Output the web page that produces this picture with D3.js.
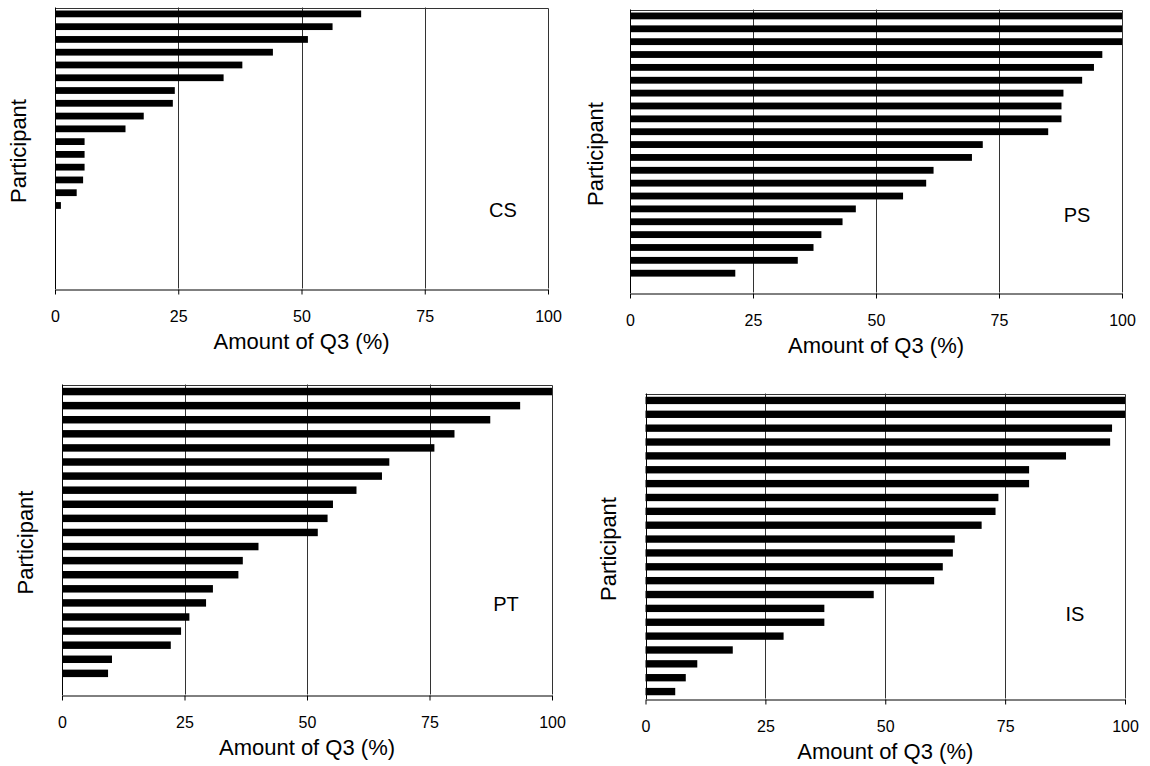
<!DOCTYPE html>
<html>
<head>
<meta charset="utf-8">
<script src="https://cdn.jsdelivr.net/npm/d3@7"></script>
<style>
  body { margin: 0; background: #fff; }
  svg { display: block; }
  text { font-family: "Liberation Sans", Arial, sans-serif; fill: #000; }
</style>
</head>
<body>
<svg id="chart" width="1150" height="766"></svg>
<script>
// Share of Q3 per participant, one array per group (sorted high to low)
const groups = ["CS", "PS", "PT", "IS"];
const csValues = [62.1, 56.3, 51.3, 44.2, 38.0, 34.2, 24.3, 23.9, 18.0, 14.3, 6.0, 6.0, 6.0, 5.7, 4.4, 1.2];
const psValues = [100, 100, 100, 96.0, 94.3, 91.9, 88.1, 87.7, 87.7, 85.0, 71.7, 69.5, 61.7, 60.2, 55.5, 45.9, 43.2, 38.9, 37.3, 34.1, 21.4];
const ptValues = [100, 93.5, 87.4, 80.1, 76.0, 66.8, 65.3, 60.1, 55.3, 54.2, 52.2, 40.1, 36.9, 36.0, 30.8, 29.4, 26.0, 24.3, 22.2, 10.2, 9.4];
const isValues = [100, 100, 97.3, 96.9, 87.7, 80.0, 80.0, 73.6, 73.0, 70.1, 64.5, 64.1, 62.0, 60.2, 47.6, 37.3, 37.3, 28.8, 18.2, 10.8, 8.4, 6.2];
const xTicks = [0, 25, 50, 75, 100];
const participantSlots = 22;
const xTitle = "Amount of Q3 (%)";
const yTitle = "Participant";

const seriesByGroup = { CS: csValues, PS: psValues, PT: ptValues, IS: isValues };

// Plot-area boxes for the 2x2 layout, plus where each group tag sits
const layout = {
  CS: { x0: 55,    x1: 548,  y0: 7.5,   y1: 288.5, ytX: 18.5, tagX: 503,  tagY: 210 },
  PS: { x0: 630,   x1: 1122, y0: 9.5,   y1: 292.5, ytX: 595,  tagX: 1077, tagY: 215 },
  PT: { x0: 62,    x1: 552,  y0: 384.5, y1: 694.5, ytX: 25,   tagX: 506,  tagY: 604 },
  IS: { x0: 645.5, x1: 1125, y0: 393.5, y1: 698.5, ytX: 608,  tagX: 1075, tagY: 614 }
};

const svg = d3.select("#chart");

groups.forEach(name => {
  const values = seriesByGroup[name];
  const L = layout[name];

  const x = d3.scaleLinear().domain([0, 100]).range([L.x0, L.x1]);
  const y = d3.scaleBand()
    .domain(d3.range(participantSlots))
    .range([L.y0, L.y1])
    .paddingInner(0.47)
    .paddingOuter(0.235);

  const g = svg.append("g").attr("class", "panel-" + name);

  // vertical gridlines
  g.append("g")
    .selectAll("line")
    .data(xTicks.filter(t => t > 0 && t < 100))
    .join("line")
    .attr("x1", d => Math.round(x(d)) + 0.5)
    .attr("x2", d => Math.round(x(d)) + 0.5)
    .attr("y1", L.y0)
    .attr("y2", L.y1)
    .attr("stroke", "#333")
    .attr("stroke-width", 1);

  // plot-area frame (top and right)
  g.append("path")
    .attr("d", `M${L.x0},${Math.round(L.y0) + 0.5}H${Math.round(L.x1) + 0.5}V${L.y1}`)
    .attr("fill", "none")
    .attr("stroke", "#333")
    .attr("stroke-width", 1);

  // bars
  g.append("g")
    .selectAll("rect")
    .data(values)
    .join("rect")
    .attr("x", x(0))
    .attr("y", (d, i) => y(i))
    .attr("width", d => x(d) - x(0))
    .attr("height", y.bandwidth())
    .attr("fill", "#000");

  // bottom axis
  const axis = d3.axisBottom(x)
    .tickValues(xTicks)
    .tickSizeInner(5)
    .tickSizeOuter(0)
    .tickPadding(16)
    .tickFormat(d3.format("d"));

  const ax = g.append("g")
    .attr("transform", `translate(0,${Math.round(L.y1) + 0.5})`)
    .call(axis);
  ax.selectAll("path,line").attr("stroke", "#000");
  ax.selectAll("text")
    .style("font-family", '"Liberation Sans", Arial, sans-serif')
    .style("font-size", "16px")
    .attr("fill", "#000");

  // left axis line
  g.append("line")
    .attr("x1", Math.round(L.x0) + 0.5)
    .attr("x2", Math.round(L.x0) + 0.5)
    .attr("y1", L.y0)
    .attr("y2", L.y1 + 0.5)
    .attr("stroke", "#000");

  // axis titles
  g.append("text")
    .attr("x", (L.x0 + L.x1) / 2)
    .attr("y", L.y1 + 53)
    .attr("dy", "0.35em")
    .attr("text-anchor", "middle")
    .style("font-size", "22px")
    .text(xTitle);

  g.append("text")
    .attr("transform", `translate(${L.ytX},${(L.y0 + L.y1) / 2 + 3}) rotate(-90)`)
    .attr("dy", "0.35em")
    .attr("text-anchor", "middle")
    .style("font-size", "22px")
    .text(yTitle);

  // group tag
  g.append("text")
    .attr("x", L.tagX)
    .attr("y", L.tagY)
    .attr("dy", "0.35em")
    .attr("text-anchor", "middle")
    .style("font-size", "20px")
    .text(name);
});
</script>
</body>
</html>
